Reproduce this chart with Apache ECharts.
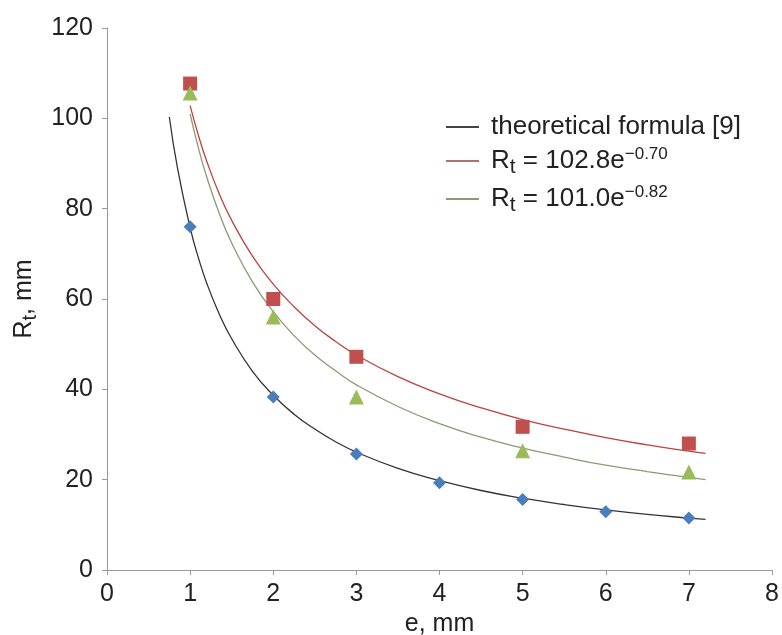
<!DOCTYPE html>
<html>
<head>
<meta charset="utf-8">
<script src="https://cdn.jsdelivr.net/npm/echarts@6/dist/echarts.min.js"></script>
<style>html,body{margin:0;padding:0;background:#fff}#c{width:782px;height:635px}</style>
</head>
<body>
<div id="c"></div>
<script>
// Measured points
var xPts = [1, 2, 3, 4, 5, 6, 7];
var theoPts = [76.0, 38.3, 25.7, 19.3, 15.6, 12.9, 11.5];
var xExp = [1, 2, 3, 5, 7];
var redPts = [107.7, 60.0, 47.2, 31.7, 28.0];
var greenPts = [105.6, 56.0, 38.3, 26.4, 21.7];

// Curves
var theoCurveX = [0.75, 0.85, 1, 1.1, 1.2, 1.35, 1.5, 1.75, 2, 2.25, 2.5, 2.75, 3, 3.5, 4, 4.5, 5, 5.5, 6, 6.5, 7, 7.2];
var theoCurveY = [100.3, 88.8, 75.8, 69.1, 63.5, 56.7, 51.2, 44.0, 38.7, 34.5, 31.2, 28.4, 26.1, 22.5, 19.8, 17.6, 15.9, 14.5, 13.3, 12.3, 11.5, 11.2];
var fitCurveX = [1, 1.1, 1.2, 1.35, 1.5, 1.75, 2, 2.25, 2.5, 2.75, 3, 3.5, 4, 4.5, 5, 5.5, 6, 6.5, 7, 7.2];
var redCurveY = [102.8, 96.2, 90.5, 83.3, 77.4, 69.5, 63.3, 58.3, 54.1, 50.6, 47.6, 42.8, 39.0, 35.9, 33.3, 31.2, 29.3, 27.7, 26.3, 25.8];
var greenCurveY = [101.0, 93.4, 87.0, 79.0, 72.4, 63.8, 57.2, 51.9, 47.6, 44.1, 41.0, 36.2, 32.4, 29.4, 27.0, 25.0, 23.2, 21.8, 20.5, 20.0];

var seriesNames = ['theoretical formula [9]', 'R_t = 102.8e^-0.70', 'R_t = 101.0e^-0.82'];

function zip(xs, ys) { return xs.map(function (x, i) { return [x, ys[i]]; }); }

var FONT = '"Liberation Sans", Arial, sans-serif';
var chart = echarts.init(document.getElementById('c'));
chart.setOption({
  animation: false,
  backgroundColor: '#fff',
  grid: { left: 107, right: 10, top: 28, bottom: 65, containLabel: false, outerBoundsMode: 'none' },
  legend: {
    data: seriesNames,
    orient: 'vertical',
    left: 441,
    top: 109,
    itemGap: 6,
    itemWidth: 33,
    itemHeight: 2,
    icon: 'rect',
    formatter: function (n) {
      if (n === seriesNames[0]) return n;
      if (n === seriesNames[1]) return 'R{sub|t} = 102.8e{sup|\u22120.70}';
      return 'R{sub|t} = 101.0e{sup|\u22120.82}';
    },
    textStyle: {
      fontFamily: FONT, fontSize: 26, color: '#222', padding: [0, 0, 0, 7],
      rich: {
        sub: { fontFamily: FONT, fontSize: 21, color: '#222', padding: [13, 0, 0, 0] },
        sup: { fontFamily: FONT, fontSize: 17, color: '#222', padding: [0, 0, 13, 0] }
      }
    }
  },
  xAxis: {
    type: 'value', min: 0, max: 8, interval: 1,
    name: 'e, mm', nameLocation: 'middle', nameGap: 42,
    nameTextStyle: { fontFamily: FONT, fontSize: 25, color: '#222' },
    axisLine: { lineStyle: { color: '#999' } },
    axisTick: { show: true, length: 5, lineStyle: { color: '#999' } },
    axisLabel: { fontFamily: FONT, fontSize: 25, color: '#222', margin: 12 },
    splitLine: { show: false }
  },
  yAxis: {
    type: 'value', min: 0, max: 120, interval: 20,
    name: 'R{sub|t}, mm', nameLocation: 'middle', nameGap: 59, nameRotate: 90,
    nameTextStyle: {
      fontFamily: FONT, fontSize: 25, color: '#222',
      rich: { sub: { fontFamily: FONT, fontSize: 20, color: '#222', padding: [13, 0, 0, 0] } }
    },
    axisLine: { show: true, lineStyle: { color: '#999' } },
    axisTick: { show: true, length: 5, lineStyle: { color: '#999' } },
    axisLabel: { fontFamily: FONT, fontSize: 25, color: '#222', margin: 14 },
    splitLine: { show: false }
  },
  series: [
    { name: seriesNames[0], type: 'line', smooth: true, showSymbol: false, symbol: 'none',
      data: zip(theoCurveX, theoCurveY), lineStyle: { color: '#333', width: 1.3 }, itemStyle: { color: '#444' }, z: 2 },
    { name: seriesNames[1], type: 'line', smooth: true, showSymbol: false, symbol: 'none',
      data: zip(fitCurveX, redCurveY), lineStyle: { color: '#c0403c', width: 1.3 }, itemStyle: { color: '#b07070' }, z: 2 },
    { name: seriesNames[2], type: 'line', smooth: true, showSymbol: false, symbol: 'none',
      data: zip(fitCurveX, greenCurveY), lineStyle: { color: '#8c9a70', width: 1.3 }, itemStyle: { color: '#8c9a70' }, z: 2 },
    { name: 'theo pts', type: 'scatter', symbol: 'diamond', symbolSize: 13,
      data: zip(xPts, theoPts), itemStyle: { color: '#4a7ebb', opacity: 1 }, z: 3 },
    { name: 'red pts', type: 'scatter', symbol: 'rect', symbolSize: 14,
      data: zip(xExp, redPts), itemStyle: { color: '#c0504d', opacity: 1 }, z: 3 },
    { name: 'green pts', type: 'scatter', symbol: 'triangle', symbolSize: 15,
      data: zip(xExp, greenPts), itemStyle: { color: '#9bbb59', opacity: 1 }, z: 3 }
  ]
});
</script>
</body>
</html>
